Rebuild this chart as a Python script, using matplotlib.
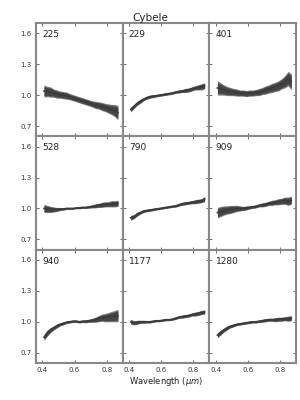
import matplotlib
matplotlib.use("Agg")
import matplotlib.pyplot as plt
import numpy as np

title = "Cybele"
panel_labels = ["225", "229", "401", "528", "790", "909", "940", "1177", "1280"]
wavelength = [0.41, 0.43, 0.45, 0.47, 0.49, 0.51, 0.53, 0.55, 0.57, 0.59, 0.61, 0.63,
              0.65, 0.67, 0.69, 0.71, 0.73, 0.75, 0.77, 0.79, 0.81, 0.83, 0.85, 0.87]

refl_225 = [1.04, 1.035, 1.03, 1.02, 1.01, 1.005, 1.0, 0.995, 0.985, 0.975, 0.965, 0.955,
            0.945, 0.935, 0.925, 0.915, 0.905, 0.90, 0.89, 0.88, 0.87, 0.86, 0.85, 0.83]
err_225 = [0.06, 0.05, 0.05, 0.04, 0.04, 0.035, 0.035, 0.035, 0.03, 0.03, 0.03, 0.03,
           0.03, 0.03, 0.03, 0.03, 0.035, 0.035, 0.04, 0.04, 0.045, 0.05, 0.06, 0.07]

refl_229 = [0.86, 0.89, 0.92, 0.94, 0.96, 0.975, 0.985, 0.99, 0.995, 1.0, 1.005, 1.01,
            1.015, 1.02, 1.03, 1.035, 1.04, 1.045, 1.05, 1.06, 1.07, 1.075, 1.08, 1.09]
err_229 = [0.025, 0.02, 0.02, 0.02, 0.015, 0.015, 0.015, 0.015, 0.012, 0.012, 0.012, 0.012,
           0.012, 0.012, 0.012, 0.015, 0.015, 0.02, 0.02, 0.02, 0.02, 0.025, 0.03, 0.03]

refl_401 = [1.07, 1.06, 1.05, 1.04, 1.035, 1.03, 1.025, 1.02, 1.02, 1.015, 1.02, 1.02,
            1.025, 1.03, 1.04, 1.05, 1.06, 1.07, 1.08, 1.09, 1.11, 1.13, 1.16, 1.13]
err_401 = [0.07, 0.06, 0.05, 0.045, 0.04, 0.035, 0.035, 0.03, 0.03, 0.03, 0.03, 0.03,
           0.03, 0.035, 0.035, 0.04, 0.04, 0.045, 0.045, 0.05, 0.05, 0.06, 0.07, 0.08]

refl_528 = [1.0, 0.995, 0.99, 0.99, 0.99, 0.995, 0.995, 1.0, 1.0, 1.0, 1.005, 1.005,
            1.01, 1.01, 1.015, 1.02, 1.025, 1.03, 1.035, 1.04, 1.04, 1.045, 1.045, 1.05]
err_528 = [0.04, 0.035, 0.03, 0.025, 0.02, 0.015, 0.012, 0.01, 0.01, 0.008, 0.008, 0.008,
           0.01, 0.01, 0.012, 0.015, 0.02, 0.02, 0.025, 0.025, 0.025, 0.03, 0.03, 0.03]

refl_790 = [0.91, 0.92, 0.945, 0.96, 0.975, 0.98, 0.985, 0.99, 0.995, 1.0, 1.005, 1.01,
            1.015, 1.02, 1.025, 1.035, 1.045, 1.05, 1.055, 1.06, 1.065, 1.07, 1.075, 1.09]
err_790 = [0.025, 0.02, 0.02, 0.015, 0.015, 0.012, 0.012, 0.012, 0.01, 0.01, 0.01, 0.01,
           0.01, 0.01, 0.012, 0.012, 0.015, 0.015, 0.015, 0.015, 0.02, 0.02, 0.02, 0.025]

refl_909 = [0.96, 0.97, 0.98, 0.985, 0.99, 0.995, 1.0, 1.0, 1.0, 1.005, 1.01, 1.015,
            1.02, 1.03, 1.035, 1.04, 1.05, 1.055, 1.06, 1.065, 1.07, 1.075, 1.07, 1.08]
err_909 = [0.05, 0.05, 0.045, 0.04, 0.04, 0.035, 0.03, 0.025, 0.02, 0.02, 0.015, 0.015,
           0.015, 0.015, 0.02, 0.02, 0.02, 0.025, 0.025, 0.03, 0.03, 0.035, 0.04, 0.04]

refl_940 = [0.85, 0.89, 0.92, 0.94, 0.96, 0.975, 0.985, 0.995, 1.0, 1.005, 1.005, 1.0,
            1.005, 1.005, 1.01, 1.015, 1.02, 1.03, 1.04, 1.04, 1.045, 1.05, 1.055, 1.06]
err_940 = [0.03, 0.03, 0.025, 0.02, 0.02, 0.015, 0.015, 0.012, 0.012, 0.012, 0.012, 0.012,
           0.012, 0.015, 0.015, 0.02, 0.025, 0.03, 0.035, 0.04, 0.045, 0.05, 0.055, 0.06]

refl_1177 = [1.0, 0.99, 0.995, 1.0, 1.0, 1.0, 1.0, 1.005, 1.01, 1.01, 1.015, 1.02,
             1.02, 1.025, 1.035, 1.045, 1.05, 1.055, 1.06, 1.07, 1.075, 1.08, 1.09, 1.095]
err_1177 = [0.025, 0.02, 0.02, 0.015, 0.015, 0.012, 0.012, 0.01, 0.01, 0.01, 0.01, 0.01,
            0.01, 0.01, 0.012, 0.012, 0.015, 0.015, 0.015, 0.015, 0.02, 0.02, 0.02, 0.02]

refl_1280 = [0.87, 0.895, 0.92, 0.94, 0.955, 0.965, 0.975, 0.98, 0.985, 0.99, 0.995, 1.0,
             1.0, 1.005, 1.01, 1.015, 1.02, 1.02, 1.02, 1.025, 1.025, 1.03, 1.03, 1.035]
err_1280 = [0.025, 0.025, 0.02, 0.02, 0.015, 0.015, 0.012, 0.012, 0.012, 0.012, 0.012, 0.012,
            0.012, 0.012, 0.015, 0.015, 0.015, 0.015, 0.02, 0.02, 0.02, 0.02, 0.025, 0.025]

spectra = [refl_225, refl_229, refl_401, refl_528, refl_790, refl_909, refl_940, refl_1177, refl_1280]
errors = [err_225, err_229, err_401, err_528, err_790, err_909, err_940, err_1177, err_1280]

xticks = [0.4, 0.6, 0.8]
yticks = [0.7, 1.0, 1.3, 1.6]

fig = plt.figure(figsize=(3, 4), dpi=100)
gs = fig.add_gridspec(3, 3, left=0.12, right=0.987, top=0.9425, bottom=0.0925,
                      wspace=0, hspace=0)
spine_col = "#888888"
w = np.array(wavelength)
for i in range(9):
    r, c = divmod(i, 3)
    ax = fig.add_subplot(gs[r, c])
    y = np.array(spectra[i])
    e = np.array(errors[i])
    ax.fill_between(w, y - e, y + e, color="#7a7a7a", lw=0)
    ax.fill_between(w, y - 0.75 * e, y + 0.75 * e, color="#454545", lw=0)
    ax.plot(w, y, color="#3a3a3a", lw=1.2)
    ax.set_xlim(0.36, 0.9)
    ax.set_ylim(0.6, 1.7)
    ax.set_xticks(xticks)
    ax.set_yticks(yticks)
    ax.set_xticklabels([f"{t:.1f}" for t in xticks])
    ax.set_yticklabels([f"{t:.1f}" for t in yticks])
    ax.tick_params(direction="in", length=2, width=0.6, color="#555555",
                   top=True, right=True, labelsize=5, labelcolor="#333333", pad=3)
    if c != 0:
        ax.tick_params(labelleft=False)
    if r != 2:
        ax.tick_params(labelbottom=False)
    for s in ax.spines.values():
        s.set_color(spine_col)
        s.set_linewidth(1.5)
    ax.text(0.07, 0.9, panel_labels[i], transform=ax.transAxes, fontsize=6.5,
            color="#222222", va="center", ha="left")

fig.suptitle(title, y=0.968, fontsize=7.5, color="#222222")
fig.text(0.553, 0.047, r"Wavelength ($\mu m$)", ha="center", va="center",
         fontsize=6, color="#222222")
fig.savefig("out.png", dpi=100)
